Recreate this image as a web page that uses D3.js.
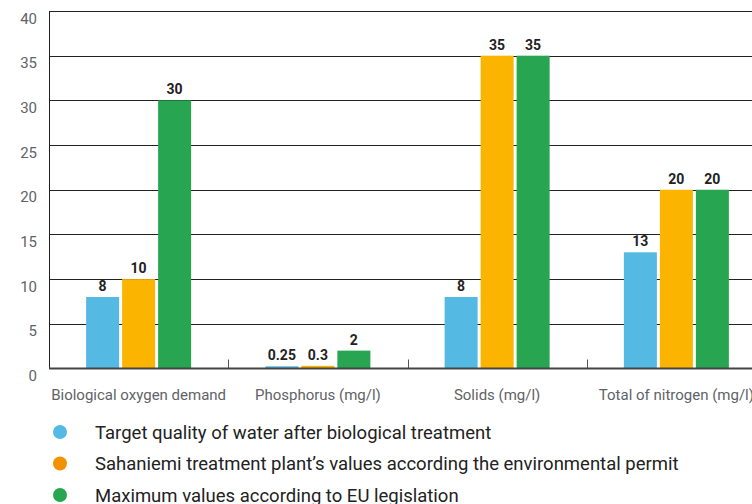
<!DOCTYPE html>
<html><head><meta charset="utf-8">
<script src="https://cdn.jsdelivr.net/npm/d3@7"></script>
<style>
body{margin:0;background:#fff;}
svg{display:block;font-family:Roboto, sans-serif;}
</style></head>
<body><svg id="c" width="752" height="504"></svg>
<script>
const categories = ["Biological oxygen demand","Phosphorus (mg/l)","Solids (mg/l)","Total of nitrogen (mg/l)"];
const seriesNames = [
  "Target quality of water after biological treatment",
  "Sahaniemi treatment plant\u2019s values according the environmental permit",
  "Maximum values according to EU legislation"
];
const targetValues = [8, 0.25, 8, 13];
const permitValues = [10, 0.3, 35, 20];
const euValues = [30, 2, 35, 20];
const valueLabels = [["8","0.25","8","13"],["10","0.3","35","20"],["30","2","35","20"]];
const yTicks = [0,5,10,15,20,25,30,35,40];
const barColors = ["#55bae3","#fbb400","#27a550"];
const legendColors = ["#55bae3","#f39200","#27a550"];

(function(){
const series = [targetValues, permitValues, euValues];
const svg = d3.select("#c");
const pLeft = 49, pRight = 766, pTop = 11, pBottom = 368.5;

const x = d3.scaleBand().domain(categories).range([pLeft, pRight]).paddingInner(0).paddingOuter(0);
const y = d3.scaleLinear().domain([0, 40]).range([pBottom, pTop]);
const inner = d3.scaleBand().domain([0,1,2]).range([0, 105]).paddingInner(3/36);
const groupOffset = (x.bandwidth() - 105) / 2;

svg.append("g").selectAll("line").data(yTicks.filter(d => d > 0)).join("line")
  .attr("x1", pLeft).attr("x2", 752)
  .attr("y1", d => Math.round(y(d)) + 0.5).attr("y2", d => Math.round(y(d)) + 0.5)
  .attr("stroke", "#222").attr("stroke-width", 1);

svg.append("g").selectAll("text").data(yTicks).join("text")
  .attr("x", 37).attr("y", d => y(d) + 12.5)
  .attr("text-anchor", "end").attr("font-size", 15).attr("fill", "#5f6368")
  .text(d => d);

series.forEach((vals, si) => {
  svg.append("g").selectAll("rect").data(vals).join("rect")
    .attr("x", (d, i) => x(categories[i]) + groupOffset + inner(si))
    .attr("width", inner.bandwidth())
    .attr("y", d => y(d))
    .attr("height", d => pBottom - y(d))
    .attr("fill", barColors[si]);
  svg.append("g").selectAll("text").data(vals).join("text")
    .attr("x", (d, i) => x(categories[i]) + groupOffset + inner(si) + inner.bandwidth() / 2)
    .attr("y", d => y(d) - 6)
    .attr("text-anchor", "middle").attr("font-size", 14).attr("font-weight", "bold").attr("fill", "#222")
    .text((d, i) => valueLabels[si][i]);
});

svg.append("line").attr("x1", pLeft + 0.5).attr("x2", pLeft + 0.5).attr("y1", pTop).attr("y2", pBottom)
  .attr("stroke", "#222").attr("stroke-width", 1);

svg.append("g").selectAll("line").data(categories.slice(1)).join("line")
  .attr("x1", d => Math.round(x(d)) + 0.5).attr("x2", d => Math.round(x(d)) + 0.5)
  .attr("y1", pBottom - 9).attr("y2", pBottom)
  .attr("stroke", "#555").attr("stroke-width", 1);

svg.append("line").attr("x1", pLeft).attr("x2", 752).attr("y1", pBottom).attr("y2", pBottom)
  .attr("stroke", "#444").attr("stroke-width", 2);

svg.append("g").selectAll("text").data(categories).join("text")
  .attr("x", d => x(d) + x.bandwidth() / 2).attr("y", 400)
  .attr("text-anchor", "middle").attr("font-size", 15).attr("fill", "#5f6368")
  .text(d => d);

const lg = svg.append("g").selectAll("g").data(seriesNames).join("g")
  .attr("transform", (d, i) => `translate(0, ${432 + i * 31.5})`);
lg.append("circle").attr("cx", 60).attr("cy", 0).attr("r", 7).attr("fill", (d, i) => legendColors[i]);
lg.append("text").attr("x", 95).attr("y", 6.5).attr("font-size", 18.5).attr("fill", "#222").text(d => d);
})();
</script></body></html>
